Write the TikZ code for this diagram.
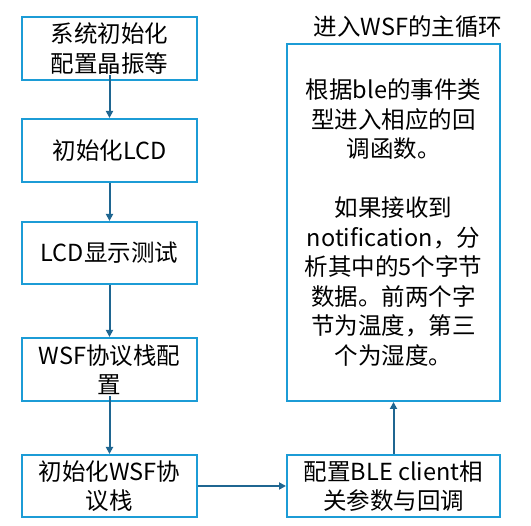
\documentclass[tikz,border=0pt]{standalone}
\usepackage{fontspec}
\setmainfont{Noto Sans CJK SC}
\usetikzlibrary{arrows.meta}
\definecolor{boxblue}{RGB}{28,156,214}
\definecolor{arrowblue}{RGB}{31,102,145}
\begin{document}
\begin{tikzpicture}[x=1pt,y=-1pt,
  box/.style={draw=boxblue,line width=2pt,fill=white,align=center,inner sep=0pt,
    font=\fontsize{23.5}{29.5}\selectfont},
  conn/.style={draw=arrowblue,line width=2pt,-{Triangle[length=7pt,width=7pt]}},
  lbl/.style={inner sep=0pt,font=\fontsize{23.5}{29.5}\selectfont}]
\useasboundingbox (0,0) rectangle (531,526);
\node[box,minimum width=175pt,minimum height=63pt] (b1) at (109.5,48.5) {系统初始化\\配置晶振等};
\node[box,minimum width=175pt,minimum height=63pt] (b2) at (109.5,150.5) {初始化LCD};
\node[box,minimum width=175pt,minimum height=62pt] (b3) at (109.5,253) {LCD显示测试};
\node[box,minimum width=175pt,minimum height=63pt] (b4) at (109.5,369.5) {WSF协议栈配\\置};
\node[box,minimum width=175pt,minimum height=62pt] (b5) at (109.5,486) {初始化WSF协\\议栈};
\node[box,minimum width=213pt,minimum height=62pt] (b6) at (393.5,486) {配置BLE client相\\关参数与回调};
\node[box,minimum width=213pt,minimum height=357pt] (b7) at (393.5,222.5) {根据ble的事件类\\型进入相应的回\\调函数。\\[29.5pt]如果接收到\\notification，分\\析其中的5个字节\\数据。前两个字\\节为温度，第三\\个为湿度。};
\node[lbl] (t) at (408,27) {进入WSF的主循环};
\draw[conn] ([yshift=6pt]b1.south) -- (b2.north);
\draw[conn] (b2) -- (b3);
\draw[conn] (b3) -- (b4);
\draw[conn] ([yshift=6pt]b4.south) -- (b5.north);
\draw[conn] (b5) -- (b6);
\draw[conn] (b6) -- (b7);
\end{tikzpicture}
\end{document}
